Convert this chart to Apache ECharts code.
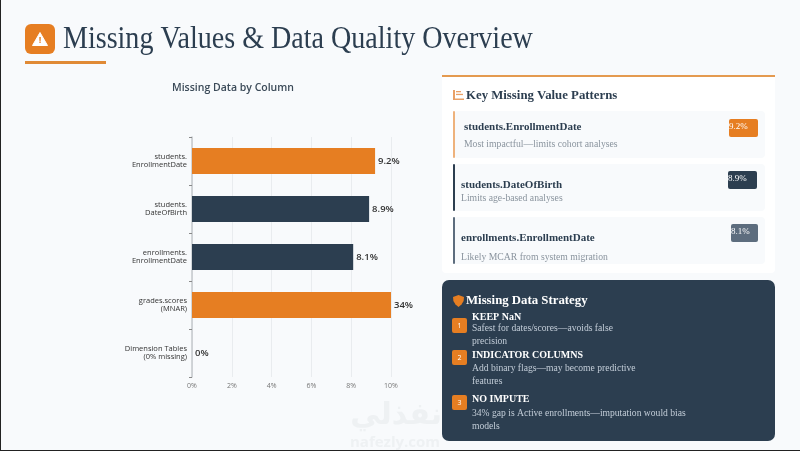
<!DOCTYPE html>
<html><head><meta charset="utf-8">
<style>html,body{margin:0;padding:0;background:#f8fafc;overflow:hidden}#c{width:800px;height:451px}</style>
<script src="https://cdn.jsdelivr.net/npm/echarts@6/dist/echarts.min.js"></script>
</head><body><div id="c"></div>
<script>
const categories = ['students.\nEnrollmentDate','students.\nDateOfBirth','enrollments.\nEnrollmentDate','grades.scores\n(MNAR)','Dimension Tables\n(0% missing)'];
const barValues = [9.2, 8.9, 8.1, 10, 0];
const barLabels = ['9.2%','8.9%','8.1%','34%','0%'];
const barColors = ['#e67e22','#2c3e50','#2c3e50','#e67e22','#2c3e50'];
const xTicks = [0,2,4,6,8,10];
const patterns = [
 {name:'students.EnrollmentDate',note:'Most impactful\u2014limits cohort analyses',badge:'9.2%',color:'#e67e22',y:111,nx:464,ny:127,sy:144,bx:729,bw:29,by:119},
 {name:'students.DateOfBirth',note:'Limits age-based analyses',badge:'8.9%',color:'#2c3e50',y:164,nx:461,ny:185,sy:198,bx:728,bw:29,by:171},
 {name:'enrollments.EnrollmentDate',note:'Likely MCAR from system migration',badge:'8.1%',color:'#5d6d7e',y:217,nx:461,ny:238,sy:257,bx:731,bw:27,by:224}
];
const strategies = [
 {n:'1',head:'KEEP NaN',lines:['Safest for dates/scores\u2014avoids false','precision'],by:318,hy:317,ly:[328,341]},
 {n:'2',head:'INDICATOR COLUMNS',lines:['Add binary flags\u2014may become predictive','features'],by:350,hy:355,ly:[368,381]},
 {n:'3',head:'NO IMPUTE',lines:['34% gap is Active enrollments\u2014imputation would bias','models'],by:395,hy:399,ly:[413,426]}
];
const serif = '"Liberation Serif","DejaVu Serif",serif';
const sans = '"Open Sans","Noto Sans",sans-serif';
function rect(x,y,w,h,fill,r,z){return {type:'rect',z:z||1,shape:{x,y,width:w,height:h,r:r||0},style:{fill}};}
function text(x,y,t,font,fill,extra,sx){return {type:'text',z:5,x,y,scaleX:sx||1,style:Object.assign({text:t,font,fill,textVerticalAlign:'middle',textBaseline:'middle'},extra||{})};}
const g = [];
g.push(rect(0,0,1,451,'#222',0,9), rect(0,450,800,1,'#222',0,9));
// header
g.push(rect(25,24,30,30,'#e67e22',6));
g.push({type:'polygon',z:5,shape:{points:[[40,32.5],[47.5,45.5],[32.5,45.5]]},style:{fill:'#fff',lineJoin:'round',stroke:'#fff',lineWidth:1}});
g.push(text(40,40.5,'!','bold 9px '+sans,'#e67e22',{textAlign:'center'}));
g.push(text(63,40,'Missing Values & Data Quality Overview','31px '+serif,'#2c3e50',null,0.905));
g.push(rect(25,61,81,3,'#e08a35'));
// watermark
g.push(text(442,416,'\u0646\u0641\u0630\u0644\u064a','bold 30px "DejaVu Sans"','#eef1f3',{textAlign:'right'}));
g.push(text(440,443,'nafezly.com','bold 15px '+sans,'#eef1f3',{textAlign:'right'}));
// patterns panel
g.push(rect(442,75,333,198,'#ffffff',4), rect(442,75,333,2,'#e49a50'));
g.push(rect(453,90,2,10,'#e9a066'),rect(453,98.5,11,1.5,'#e9a066'),rect(456,91,5,1.3,'#e9a066'),rect(456,93.8,7,1.3,'#e9a066'));
g.push(text(466,96,'Key Missing Value Patterns','bold 12.8px '+serif,'#2c3e50'));
patterns.forEach(p=>{
  g.push(rect(454,p.y,311,47,'#f8fafc',4));
  g.push(rect(453,p.y,2,47,p.color==='#e67e22'?'#eeb27c':p.color,1));
  g.push(text(p.nx,p.ny,p.name,'bold 11px '+serif,'#2c3e50'));
  g.push(text(p.nx,p.sy,p.note,'9.7px '+serif,'#8a949e'));
  g.push(rect(p.bx,p.by,p.bw,18,p.color,2));
  g.push(text(p.bx,p.by+8,p.badge,'9px '+serif,'#ffffff'));
});
// strategy panel
g.push(rect(442,280,333,161,'#2c3e50',7,2));
g.push({type:'polygon',z:5,shape:{points:[[453,297],[458.5,295],[464,297],[463.6,301],[461.5,304.5],[458.5,307],[455.5,304.5],[453.4,301]]},style:{fill:'#e67e22'}});
g.push(text(466,301,'Missing Data Strategy','bold 12.8px '+serif,'#ffffff'));
strategies.forEach(s=>{
  g.push(rect(452,s.by,15,15,'#e67e22',2,3));
  g.push(text(459.5,s.by+7.5,s.n,'7px '+sans,'#ffffff',{textAlign:'center'}));
  g.push(text(472,s.hy,s.head,'bold 10px '+serif,'#ffffff'));
  s.lines.forEach((l,i)=>g.push(text(472,s.ly[i],l,'9.6px '+serif,'#c3cdd8')));
});
const chart = echarts.init(document.getElementById('c'),null,{renderer:'canvas'});
chart.setOption({
  animation:false,
  backgroundColor:'#f8fafc',
  title:{text:'Missing Data by Column',left:228,top:78,textAlign:'center',textStyle:{fontFamily:sans,fontSize:10.5,fontWeight:600,color:'#3b4a58'}},
  grid:{left:192,top:137,width:199,height:240,containLabel:false},
  xAxis:{type:'value',min:0,max:10,interval:2,
    axisLabel:{formatter:v=>xTicks.includes(v)?v+'%':'',fontFamily:sans,fontSize:7,color:'#777',margin:5},
    axisLine:{show:false},axisTick:{show:false},
    splitLine:{show:true,lineStyle:{color:'#e9ecef',width:1}}},
  yAxis:{type:'category',inverse:true,data:categories,
    axisLabel:{fontFamily:sans,fontSize:7.5,color:'#333',lineHeight:8,margin:5},
    axisLine:{show:true,lineStyle:{color:'#c4c8cc',width:1.5}},
    axisTick:{show:true,length:3,lineStyle:{color:'#888'}},splitLine:{show:false}},
  series:[{type:'bar',barWidth:26,
    data:barValues.map((v,i)=>({value:v,itemStyle:{color:barColors[i]},
      label:{show:true,position:'right',distance:3,formatter:barLabels[i],fontFamily:sans,fontSize:9.5,fontWeight:600,color:'#333'}}))}],
  graphic:{elements:g}
});
</script></body></html>
